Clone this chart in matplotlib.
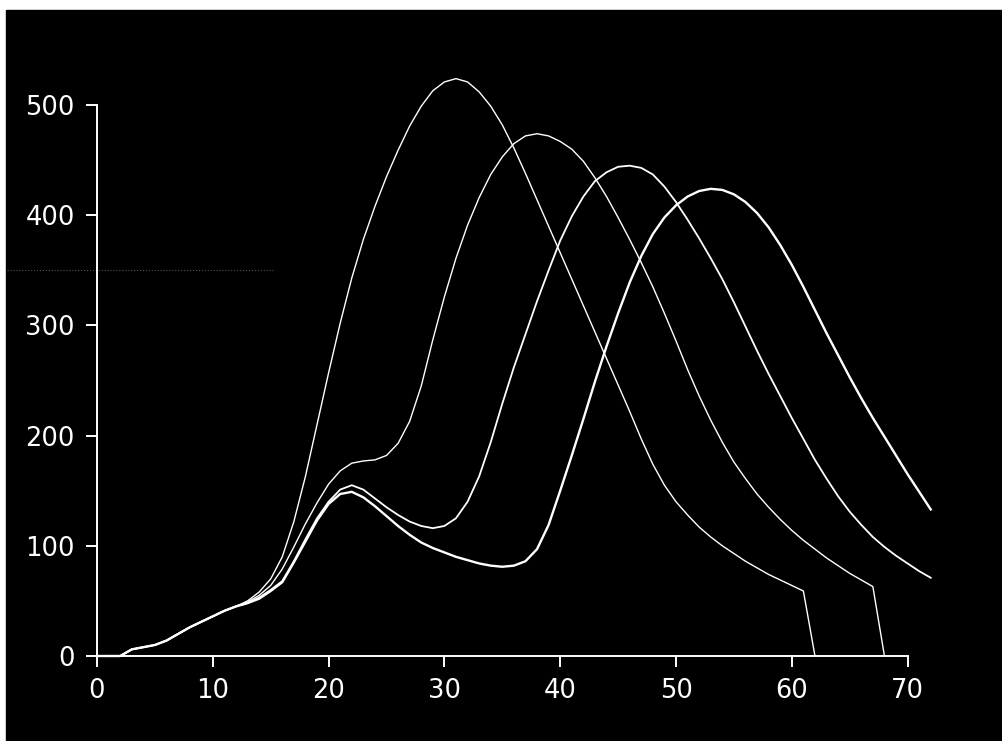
import numpy as np
import matplotlib
matplotlib.use("Agg")
import matplotlib.pyplot as plt
from matplotlib.lines import Line2D
from matplotlib.patches import Rectangle

# shared start of all four curves
x_start = [0, 2, 3, 4, 5, 6, 7, 8, 9, 10, 11, 12]
y_start = [0, 0, 6, 8, 10, 14, 20, 26, 31, 36, 41, 45]

x_rest = list(range(13, 73))

# curve 1 (highest, earliest peak), ends at x=62
y_a = [50, 58, 70, 90, 122, 163, 210, 257, 302, 343, 378, 408, 435, 459, 481,
       499, 513, 521, 524, 521, 512, 499, 482, 461, 438, 414, 390, 366, 342,
       318, 294, 270, 246, 222, 197, 174, 155, 140, 128, 117, 108, 100, 93,
       86, 80, 74, 69, 64, 59, 0]

# curve 2, ends at x=68
y_b = [49, 55, 64, 79, 99, 120, 139, 156, 168, 175, 177, 178, 182, 193, 213,
       245, 287, 326, 361, 391, 416, 437, 453, 465, 472, 474, 472, 467, 460,
       449, 434, 417, 398, 378, 357, 335, 311, 286, 260, 236, 214, 194, 176,
       161, 147, 135, 124, 114, 105, 97, 89, 82, 75, 69, 63, 0]

# curve 3, runs to x=72
y_c = [48, 53, 60, 68, 86, 106, 125, 140, 151, 155, 151, 143, 135, 128, 122,
       118, 116, 118, 125, 140, 163, 194, 229, 262, 292, 322, 350, 377, 399,
       417, 431, 439, 444, 445, 443, 437, 426, 412, 396, 379, 361, 342, 321,
       299, 277, 256, 236, 216, 197, 178, 161, 145, 131, 119, 108, 99, 91, 84,
       77, 71]

# curve 4 (latest peak), runs to x=72
y_d = [48, 52, 59, 67, 85, 104, 123, 138, 147, 149, 144, 136, 127, 118, 110,
       103, 98, 94, 90, 87, 84, 82, 81, 82, 86, 97, 119, 150, 182, 215, 249,
       281, 311, 339, 363, 383, 398, 409, 417, 422, 424, 423, 419, 412, 402,
       389, 373, 355, 335, 314, 293, 273, 253, 234, 216, 199, 182, 165, 149,
       133]

x_ticks = [0, 10, 20, 30, 40, 50, 60, 70]
y_ticks = [0, 100, 200, 300, 400, 500]

fig = plt.figure(figsize=(10.03, 7.41), dpi=100)
fig.patch.set_facecolor("white")
# black scanned page area
fig.patches.append(Rectangle((6 / 1003, 0), 1, 1 - 10 / 741,
                             transform=fig.transFigure, color="black", zorder=-10))
# faint scan artefact line
fig.lines.append(Line2D([7 / 1003, 273 / 1003], [1 - 270 / 741, 1 - 270 / 741],
                        transform=fig.transFigure, color="#555555", lw=0.8,
                        linestyle=":", zorder=-5))

ax = fig.add_axes([97 / 1003, 85 / 741, 868.5 / 1003, 595 / 741])
ax.set_facecolor("none")
ax.set_xlim(0, 75)
ax.set_ylim(0, 540)

widths = [1.0, 1.0, 1.3, 1.7]
for ys, lw in zip([y_a, y_b, y_c, y_d], widths):
    xs = x_start + x_rest[:len(ys)]
    ax.plot(xs, y_start + ys, color="white", lw=lw, clip_on=False,
            solid_joinstyle="round")

for s in ["top", "right"]:
    ax.spines[s].set_visible(False)
for s in ["left", "bottom"]:
    ax.spines[s].set_color("white")
    ax.spines[s].set_linewidth(1.4)
ax.spines["bottom"].set_bounds(0, 70)
ax.spines["left"].set_bounds(0, 500)

ax.set_xticks(x_ticks)
ax.set_yticks(y_ticks)
ax.tick_params(colors="white", length=8, width=1.4, labelsize=18.5, pad=8)
for lab in ax.get_xticklabels() + ax.get_yticklabels():
    lab.set_family(["DejaVu Sans"])

fig.savefig("out.png", dpi=100, facecolor=fig.get_facecolor())
